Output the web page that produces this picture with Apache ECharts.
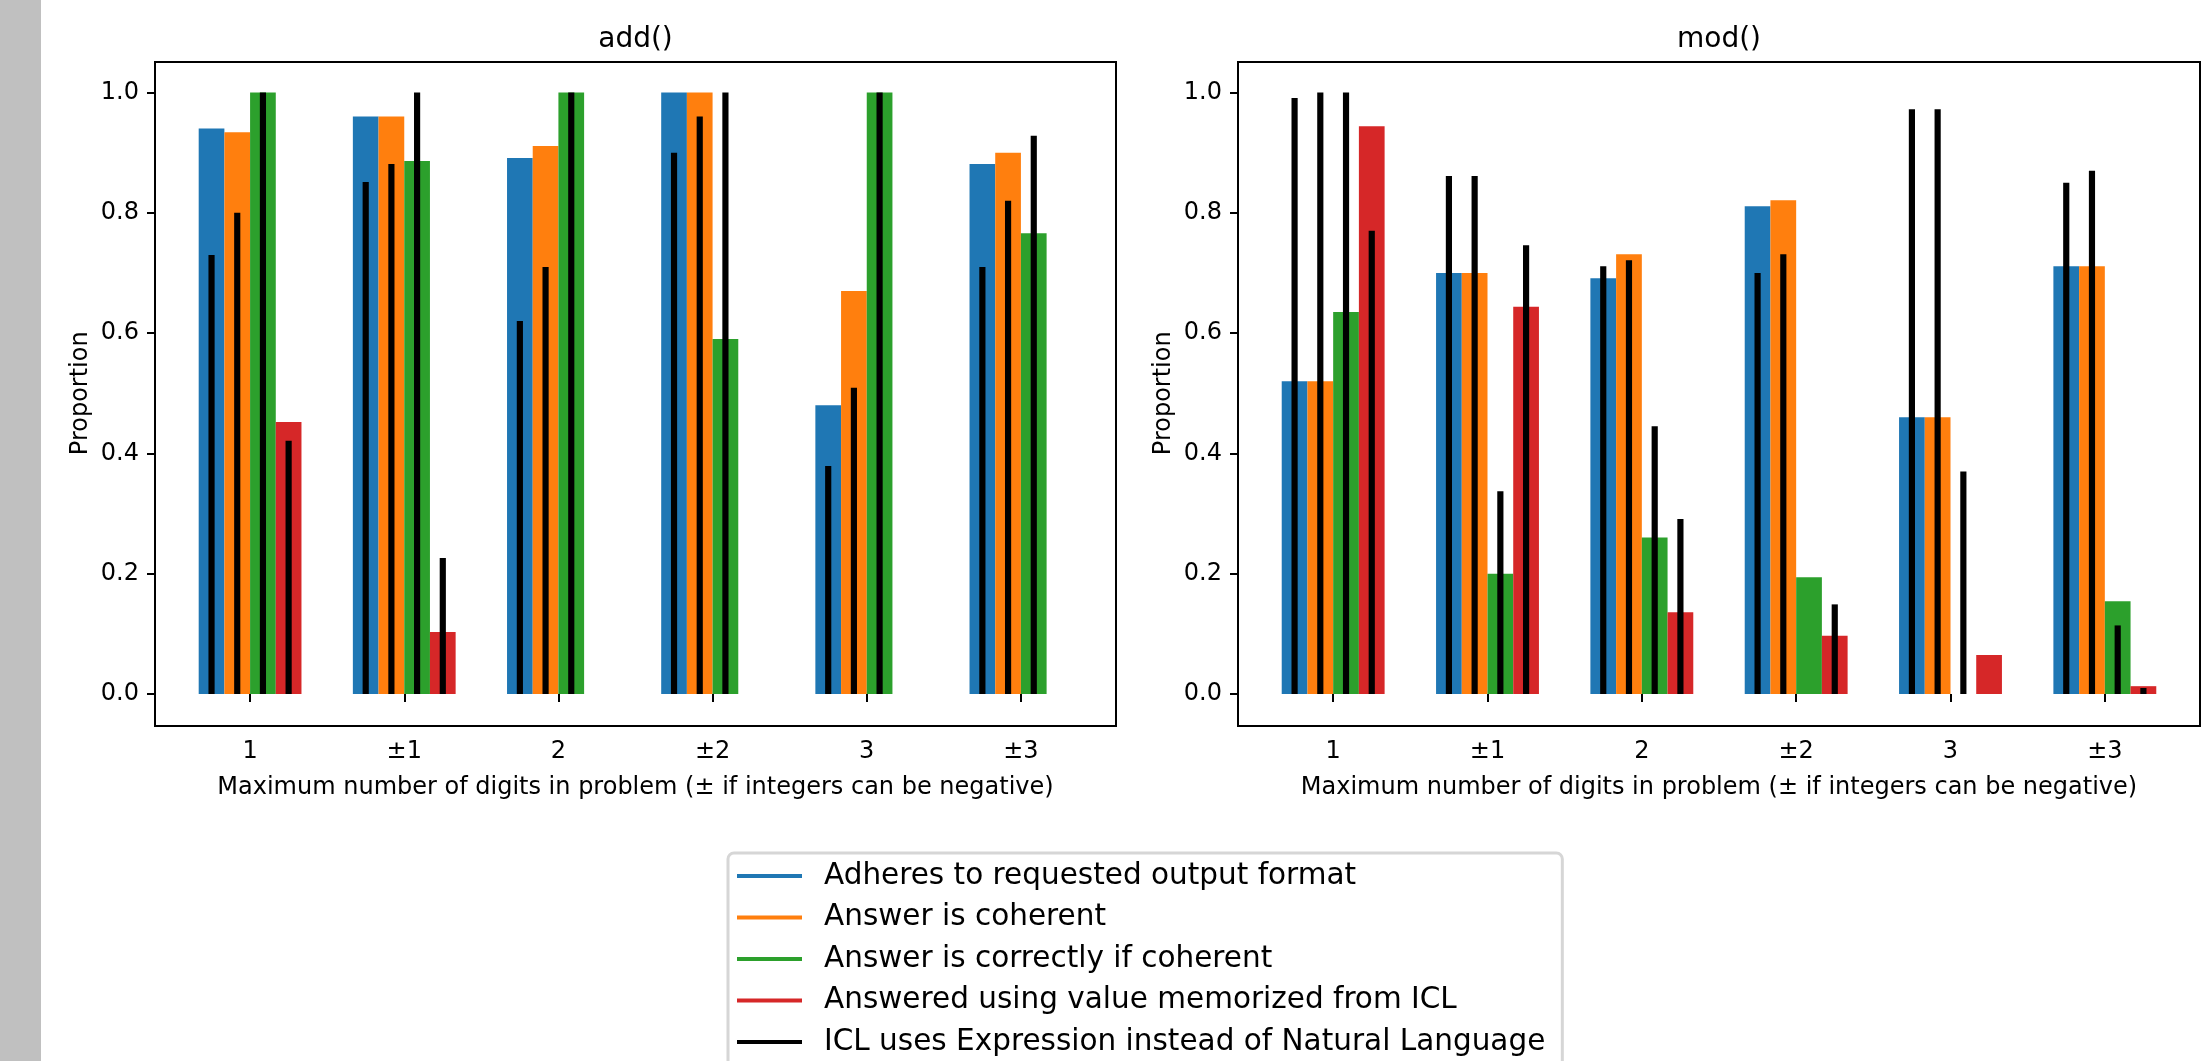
<!DOCTYPE html>
<html>
<head>
<meta charset="utf-8">
<script src="https://cdn.jsdelivr.net/npm/echarts@6/dist/echarts.min.js"></script>
<style>
html,body{margin:0;padding:0;background:#fff;}
#chart{width:2207px;height:1061px;}
</style>
</head>
<body>
<div id="chart"></div>
<script>
// ---------- data ----------
const categories = ['1', '±1', '2', '±2', '3', '±3'];
const seriesNames = [
  'Adheres to requested output format',
  'Answer is coherent',
  'Answer is correctly if coherent',
  'Answered using value memorized from ICL'
];
const exprName = 'ICL uses Expression instead of Natural Language';
const panelTitles = ['add()', 'mod()'];
const xAxisName = 'Maximum number of digits in problem (± if integers can be negative)';
const yAxisName = 'Proportion';

// add()
const addAdheres   = [0.940, 0.960, 0.891, 1.000, 0.480, 0.881];
const addCoherent  = [0.934, 0.960, 0.911, 1.000, 0.670, 0.900];
const addCorrect   = [1.000, 0.886, 1.000, 0.590, 1.000, 0.766];
const addMemorized = [0.452, 0.103, 0, 0, 0, 0];
const addExprAdheres   = [0.730, 0.851, 0.620, 0.900, 0.379, 0.710];
const addExprCoherent  = [0.800, 0.881, 0.710, 0.960, 0.509, 0.820];
const addExprCorrect   = [1.000, 1.000, 1.000, 1.000, 1.000, 0.928];
const addExprMemorized = [0.421, 0.226, 0, 0, 0, 0];

// mod()
const modAdheres   = [0.520, 0.700, 0.691, 0.811, 0.460, 0.711];
const modCoherent  = [0.520, 0.700, 0.731, 0.821, 0.460, 0.711];
const modCorrect   = [0.635, 0.200, 0.260, 0.194, 0, 0.154];
const modMemorized = [0.944, 0.644, 0.136, 0.097, 0.065, 0.013];
const modExprAdheres   = [0.991, 0.861, 0.711, 0.700, 0.972, 0.850];
const modExprCoherent  = [1.000, 0.861, 0.721, 0.731, 0.972, 0.870];
const modExprCorrect   = [1.000, 0.337, 0.445, 0, 0.370, 0.114];
const modExprMemorized = [0.770, 0.746, 0.291, 0.149, 0, 0.010];

const colors = ['#1f77b4', '#ff7f0e', '#2ca02c', '#d62728'];

// ---------- layout ----------
const FONT = 'DejaVu Sans';
const frames = [
  {left: 155, top: 62, width: 961, height: 664},
  {left: 1238, top: 62, width: 962, height: 664}
];
const padX = 18, padTop = 30.5, padBottom = 32;

const grids = [], xAxes = [], yAxes = [], series = [], titles = [];
const panelData = [
  {main: [addAdheres, addCoherent, addCorrect, addMemorized],
   expr: [addExprAdheres, addExprCoherent, addExprCorrect, addExprMemorized]},
  {main: [modAdheres, modCoherent, modCorrect, modMemorized],
   expr: [modExprAdheres, modExprCoherent, modExprCorrect, modExprMemorized]}
];

frames.forEach((f, p) => {
  const gFrame = grids.length;
  grids.push({left: f.left, top: f.top, width: f.width, height: f.height,
    show: true, borderColor: '#000', borderWidth: 2, backgroundColor: 'transparent'});
  const gData = grids.length;
  grids.push({left: f.left + padX, top: f.top + padTop, width: f.width - 2 * padX,
    height: f.height - padTop - padBottom});

  xAxes.push({type: 'value', gridIndex: gFrame, show: false, min: 0, max: 1});
  yAxes.push({type: 'value', gridIndex: gFrame, show: false, min: 0, max: 1});

  const xMain = xAxes.length;
  xAxes.push({
    type: 'category', gridIndex: gData, data: categories, position: 'bottom', offset: padBottom,
    axisLine: {show: false},
    axisTick: {show: true, alignWithLabel: true, length: 8, lineStyle: {color: '#000', width: 2}},
    axisLabel: {fontFamily: FONT, fontSize: 24, color: '#000', margin: 14},
    splitLine: {show: false},
    name: xAxisName, nameLocation: 'middle', nameGap: 50,
    nameTextStyle: {fontFamily: FONT, fontSize: 24, color: '#000'}
  });
  const xExpr = xAxes.length;
  xAxes.push({type: 'category', gridIndex: gData, data: categories, show: false});

  const yData = yAxes.length;
  yAxes.push({
    type: 'value', gridIndex: gData, min: 0, max: 1, interval: 0.2, position: 'left', offset: padX,
    axisLine: {show: false},
    axisTick: {show: true, length: 8, lineStyle: {color: '#000', width: 2}},
    axisLabel: {fontFamily: FONT, fontSize: 24, color: '#000', margin: 16,
      formatter: v => v.toFixed(1)},
    splitLine: {show: false},
    name: yAxisName, nameLocation: 'middle', nameGap: 62,
    nameTextStyle: {fontFamily: FONT, fontSize: 24, color: '#000'}
  });

  panelData[p].main.forEach((arr, i) => {
    series.push({
      type: 'bar', name: seriesNames[i], xAxisIndex: xMain, yAxisIndex: yData,
      data: arr, barWidth: '16.6667%', barGap: '0%', z: 2,
      itemStyle: {color: colors[i]}, emphasis: {disabled: true}, animation: false
    });
  });
  panelData[p].expr.forEach((arr) => {
    series.push({
      type: 'bar', name: exprName, xAxisIndex: xExpr, yAxisIndex: yData,
      data: arr, barWidth: '4%', barGap: '316.67%', z: 3,
      itemStyle: {color: '#000'}, emphasis: {disabled: true}, animation: false
    });
  });

  titles.push({
    text: panelTitles[p], left: f.left + f.width / 2, top: 26, textAlign: 'center', padding: 0,
    textStyle: {fontFamily: FONT, fontSize: 28, fontWeight: 'normal', color: '#000'}
  });
});

const chart = echarts.init(document.getElementById('chart'), null, {renderer: 'canvas'});
chart.setOption({
  backgroundColor: '#fff',
  animation: false,
  title: titles,
  grid: grids,
  xAxis: xAxes,
  yAxis: yAxes,
  series: series,
  legend: {
    type: 'plain', orient: 'vertical', left: 728, top: 853, height: 300,
    data: seriesNames.concat([exprName]),
    icon: 'rect', itemWidth: 65, itemHeight: 4, itemGap: 7.5,
    padding: [6, 17, 30, 9],
    backgroundColor: '#fff', borderColor: '#d6d6d6', borderWidth: 3, borderRadius: 6,
    selectedMode: false,
    textStyle: {fontFamily: FONT, fontSize: 29.5, color: '#000', lineHeight: 34, padding: [0, 0, 0, 17]}
  },
  graphic: [{
    type: 'rect', left: 0, top: 0, shape: {width: 41, height: 1061},
    style: {fill: '#c0c0c0'}, z: -10
  }]
});
</script>
</body>
</html>
